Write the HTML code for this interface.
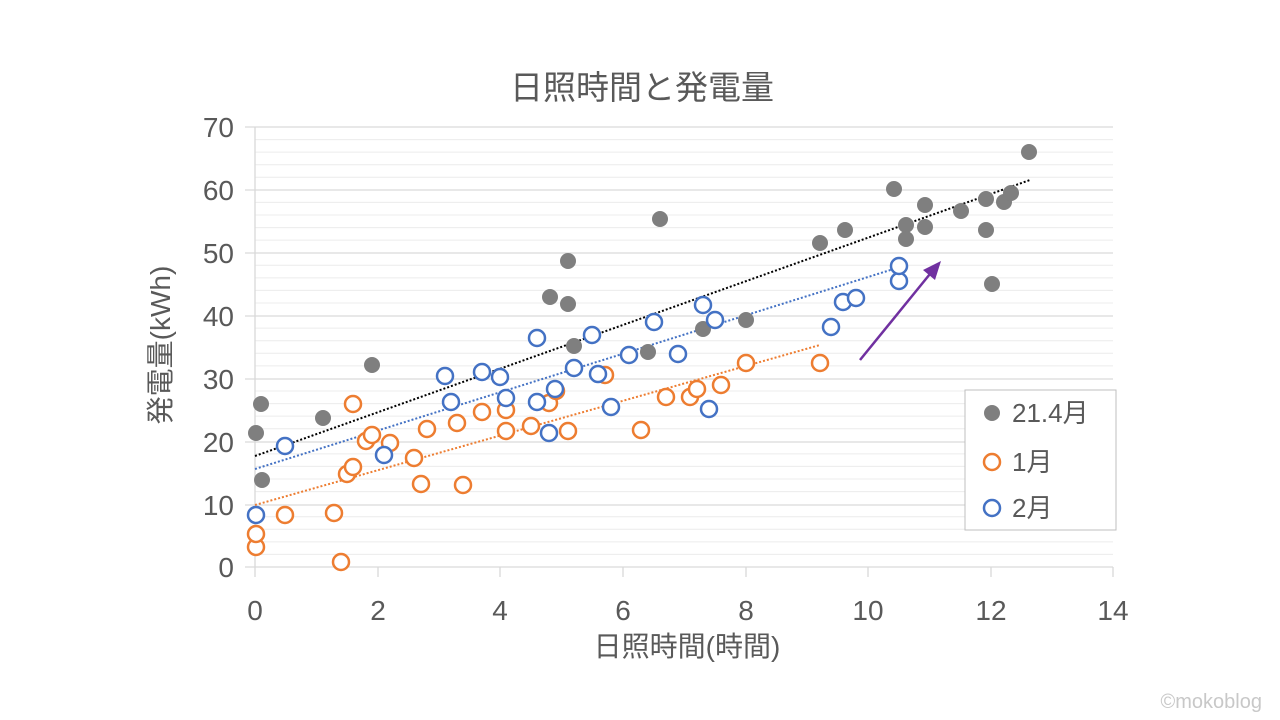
<!DOCTYPE html>
<html><head><meta charset="utf-8"><style>
body{margin:0;background:#fff;}
svg{display:block;font-family:"Liberation Sans","Noto Sans CJK JP",sans-serif;}
</style></head><body>
<svg width="1280" height="720" viewBox="0 0 1280 720">
<rect width="1280" height="720" fill="#fff"/>
<g stroke="#ececec" stroke-width="1">
<line x1="255" x2="1113" y1="554.4" y2="554.4"/><line x1="255" x2="1113" y1="541.9" y2="541.9"/><line x1="255" x2="1113" y1="529.3" y2="529.3"/><line x1="255" x2="1113" y1="516.7" y2="516.7"/>
<line x1="255" x2="1113" y1="491.6" y2="491.6"/><line x1="255" x2="1113" y1="479" y2="479"/><line x1="255" x2="1113" y1="466.4" y2="466.4"/><line x1="255" x2="1113" y1="453.9" y2="453.9"/>
<line x1="255" x2="1113" y1="428.7" y2="428.7"/><line x1="255" x2="1113" y1="416.1" y2="416.1"/><line x1="255" x2="1113" y1="403.6" y2="403.6"/><line x1="255" x2="1113" y1="391" y2="391"/>
<line x1="255" x2="1113" y1="365.9" y2="365.9"/><line x1="255" x2="1113" y1="353.3" y2="353.3"/><line x1="255" x2="1113" y1="340.7" y2="340.7"/><line x1="255" x2="1113" y1="328.1" y2="328.1"/>
<line x1="255" x2="1113" y1="303" y2="303"/><line x1="255" x2="1113" y1="290.4" y2="290.4"/><line x1="255" x2="1113" y1="277.9" y2="277.9"/><line x1="255" x2="1113" y1="265.3" y2="265.3"/>
<line x1="255" x2="1113" y1="240.1" y2="240.1"/><line x1="255" x2="1113" y1="227.6" y2="227.6"/><line x1="255" x2="1113" y1="215" y2="215"/><line x1="255" x2="1113" y1="202.4" y2="202.4"/>
<line x1="255" x2="1113" y1="177.3" y2="177.3"/><line x1="255" x2="1113" y1="164.7" y2="164.7"/><line x1="255" x2="1113" y1="152.1" y2="152.1"/><line x1="255" x2="1113" y1="139.6" y2="139.6"/>
</g>
<g stroke="#d9d9d9" stroke-width="1.3">
<line x1="245" x2="1113" y1="127" y2="127"/><line x1="245" x2="1113" y1="190" y2="190"/><line x1="245" x2="1113" y1="253" y2="253"/><line x1="245" x2="1113" y1="316" y2="316"/><line x1="245" x2="1113" y1="379" y2="379"/><line x1="245" x2="1113" y1="442" y2="442"/><line x1="245" x2="1113" y1="505" y2="505"/>
<line x1="245" x2="1113" y1="567" y2="567"/>
<line x1="255" x2="255" y1="127" y2="577"/>
<line x1="378" x2="378" y1="567" y2="577"/><line x1="500" x2="500" y1="567" y2="577"/><line x1="623" x2="623" y1="567" y2="577"/><line x1="746" x2="746" y1="567" y2="577"/><line x1="868" x2="868" y1="567" y2="577"/><line x1="991" x2="991" y1="567" y2="577"/><line x1="1113" x2="1113" y1="567" y2="577"/>
</g>
<text x="642" y="99" font-size="33" fill="#595959" text-anchor="middle">日照時間と発電量</text>
<g font-size="28" fill="#595959" text-anchor="end">
<text x="234" y="137">70</text><text x="234" y="200">60</text><text x="234" y="263">50</text><text x="234" y="326">40</text><text x="234" y="389">30</text><text x="234" y="452">20</text><text x="234" y="515">10</text><text x="234" y="577">0</text>
</g>
<g font-size="28" fill="#595959" text-anchor="middle">
<text x="255" y="620">0</text><text x="378" y="620">2</text><text x="500" y="620">4</text><text x="623" y="620">6</text><text x="746" y="620">8</text><text x="868" y="620">10</text><text x="991" y="620">12</text><text x="1113" y="620">14</text>
<text x="687" y="656">日照時間(時間)</text>
<text transform="translate(170,345) rotate(-90)">発電量(kWh)</text>
</g>
<line x1="255" y1="456" x2="1030" y2="180" stroke="#000" stroke-width="2" stroke-dasharray="2,2"/>
<line x1="255" y1="469" x2="900" y2="267" stroke="#4472c4" stroke-width="2" stroke-dasharray="2,2"/>
<line x1="255" y1="505" x2="820" y2="345" stroke="#ed7d31" stroke-width="2" stroke-dasharray="2,2"/>
<g fill="#7f7f7f">
<circle cx="256" cy="433" r="8"/><circle cx="261" cy="404" r="8"/><circle cx="262" cy="480" r="8"/><circle cx="323" cy="418" r="8"/><circle cx="372" cy="365" r="8"/><circle cx="550" cy="297" r="8"/><circle cx="568" cy="304" r="8"/><circle cx="568" cy="261" r="8"/><circle cx="574" cy="346" r="8"/><circle cx="660" cy="219" r="8"/><circle cx="648" cy="352" r="8"/><circle cx="703" cy="329" r="8"/><circle cx="746" cy="320" r="8"/><circle cx="820" cy="243" r="8"/><circle cx="845" cy="230" r="8"/><circle cx="894" cy="189" r="8"/><circle cx="906" cy="225" r="8"/><circle cx="906" cy="239" r="8"/><circle cx="925" cy="205" r="8"/><circle cx="925" cy="227" r="8"/><circle cx="961" cy="211" r="8"/><circle cx="986" cy="199" r="8"/><circle cx="986" cy="230" r="8"/><circle cx="992" cy="284" r="8"/><circle cx="1004" cy="202" r="8"/><circle cx="1011" cy="193" r="8"/><circle cx="1029" cy="152" r="8"/>
</g>
<g fill="#fff" stroke="#ed7d31" stroke-width="2.5">
<circle cx="256" cy="547" r="8"/><circle cx="256" cy="534" r="8"/><circle cx="285" cy="515" r="8"/><circle cx="334" cy="513" r="8"/><circle cx="341" cy="562" r="8"/><circle cx="347" cy="474" r="8"/><circle cx="353" cy="467" r="8"/><circle cx="353" cy="404" r="8"/><circle cx="366" cy="441" r="8"/><circle cx="372" cy="435" r="8"/><circle cx="390" cy="443" r="8"/><circle cx="414" cy="458" r="8"/><circle cx="421" cy="484" r="8"/><circle cx="427" cy="429" r="8"/><circle cx="457" cy="423" r="8"/><circle cx="463" cy="485" r="8"/><circle cx="482" cy="412" r="8"/><circle cx="506" cy="410" r="8"/><circle cx="506" cy="431" r="8"/><circle cx="531" cy="426" r="8"/><circle cx="549" cy="403" r="8"/><circle cx="556" cy="391" r="8"/><circle cx="568" cy="431" r="8"/><circle cx="605" cy="375" r="8"/><circle cx="641" cy="430" r="8"/><circle cx="666" cy="397" r="8"/><circle cx="690" cy="397" r="8"/><circle cx="697" cy="389" r="8"/><circle cx="721" cy="385" r="8"/><circle cx="746" cy="363" r="8"/><circle cx="820" cy="363" r="8"/>
</g>
<g fill="#fff" stroke="#4472c4" stroke-width="2.5">
<circle cx="256" cy="515" r="8"/><circle cx="285" cy="446" r="8"/><circle cx="384" cy="455" r="8"/><circle cx="445" cy="376" r="8"/><circle cx="451" cy="402" r="8"/><circle cx="482" cy="372" r="8"/><circle cx="500" cy="377" r="8"/><circle cx="506" cy="398" r="8"/><circle cx="537" cy="338" r="8"/><circle cx="537" cy="402" r="8"/><circle cx="549" cy="433" r="8"/><circle cx="555" cy="389" r="8"/><circle cx="574" cy="368" r="8"/><circle cx="592" cy="335" r="8"/><circle cx="598" cy="374" r="8"/><circle cx="611" cy="407" r="8"/><circle cx="629" cy="355" r="8"/><circle cx="654" cy="322" r="8"/><circle cx="678" cy="354" r="8"/><circle cx="703" cy="305" r="8"/><circle cx="709" cy="409" r="8"/><circle cx="715" cy="320" r="8"/><circle cx="831" cy="327" r="8"/><circle cx="843" cy="302" r="8"/><circle cx="856" cy="298" r="8"/><circle cx="899" cy="281" r="8"/><circle cx="899" cy="266" r="8"/>
</g>
<line x1="860" y1="360" x2="934" y2="269" stroke="#7030a0" stroke-width="2.5"/>
<polygon points="941,261 923,270 935,280" fill="#7030a0"/>
<rect x="965" y="390" width="151" height="140" fill="#fff" stroke="#bfbfbf" stroke-width="1"/>
<circle cx="992" cy="413" r="8" fill="#7f7f7f"/>
<circle cx="992" cy="462" r="8" fill="#fff" stroke="#ed7d31" stroke-width="2.5"/>
<circle cx="992" cy="508" r="8" fill="#fff" stroke="#4472c4" stroke-width="2.5"/>
<g font-size="26" fill="#595959">
<text x="1012" y="422">21.4月</text><text x="1012" y="471">1月</text><text x="1012" y="517">2月</text>
</g>
<text x="1262" y="708" font-size="20" fill="#c8c8c8" text-anchor="end">©mokoblog</text>
</svg>
</body></html>
